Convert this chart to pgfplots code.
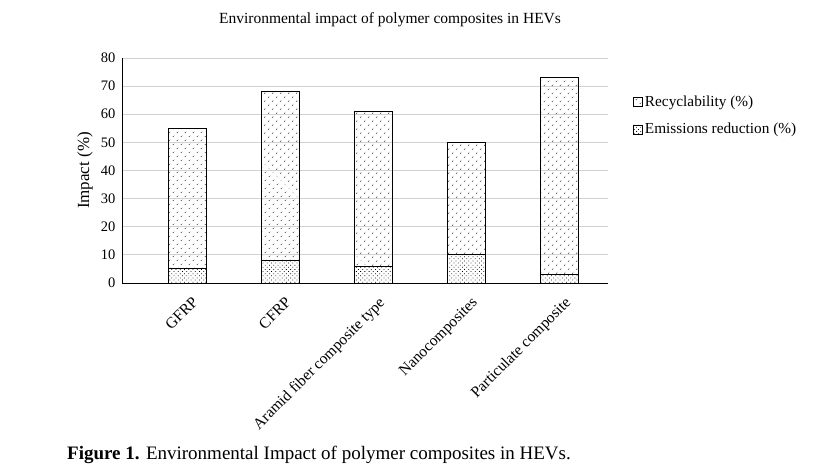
\documentclass[border=0pt]{standalone}
\usepackage{fontspec}
\setmainfont{Liberation Serif}
\usepackage{pgfplots}
\pgfplotsset{compat=1.18}
\usetikzlibrary{patterns.meta}
\pgfplotstableread{
x em rec
0 5 50
1 8 60
2 6 55
3 10 40
4 3 70
}\datatable
\begin{document}
\begin{tikzpicture}[x=1bp,y=1bp]
\path[use as bounding box] (0,0) rectangle (826,471);
\begin{axis}[
  at={(122bp,188bp)}, anchor=south west,
  scale only axis, width=486bp, height=225bp,
  ybar stacked, bar width=38bp,
  xmin=-0.70, xmax=4.52, ymin=0, ymax=80,
  ytick={0,10,...,80},
  xtick={0,1,2,3,4},
  xticklabels={GFRP,CFRP,Aramid fiber composite type,Nanocomposites,Particulate composite},
  axis x line*=bottom, axis y line*=left,
  axis line style={black, line width=0.9pt, -},
  major tick length=0pt,
  ymajorgrids, grid style={black!18, line width=0.8pt},
  /pgf/number format/assume math mode=true,
  yticklabel style={font=\fontsize{14.5bp}{17bp}\selectfont, xshift=-3bp},
  xticklabel style={font=\fontsize{15.5bp}{18bp}\selectfont, rotate=45, anchor=north east, inner sep=1bp, yshift=-11bp, xshift=-5bp},
  ylabel={Impact (\%)},
  ylabel style={font=\fontsize{17bp}{19bp}\selectfont, at={(axis description cs:-0.076,0.5)}, anchor=center},
  reverse legend,
  legend style={at={(1.052,0.84)}, anchor=north west, draw=none, fill=none,
    font=\fontsize{15.3bp}{17bp}\selectfont, row sep=11bp, inner sep=0pt},
  legend cell align=left,
  legend image code/.code={\draw[#1, line width=0.5pt] (0bp,-4.5bp) rectangle (9bp,4.5bp);},
]
\addplot[draw=black, line width=0.9pt, pattern={Dots[distance=3bp, angle=45, radius=0.55bp]}] table[x=x,y=em]{\datatable};
\addplot[draw=black, line width=0.9pt, pattern={Dots[distance=6bp, angle=45, radius=0.7bp]}] table[x=x,y=rec]{\datatable};
\legend{Emissions reduction (\%),Recyclability (\%)}
\end{axis}
\node[font=\fontsize{15.5bp}{18bp}\selectfont] at (390,451) {Environmental impact of polymer composites in HEVs};
\node[anchor=west, font=\fontsize{19bp}{22bp}\selectfont, inner sep=0pt] at (67,16) {\textbf{Figure 1.} Environmental Impact of polymer composites in HEVs.};
\end{tikzpicture}
\end{document}
